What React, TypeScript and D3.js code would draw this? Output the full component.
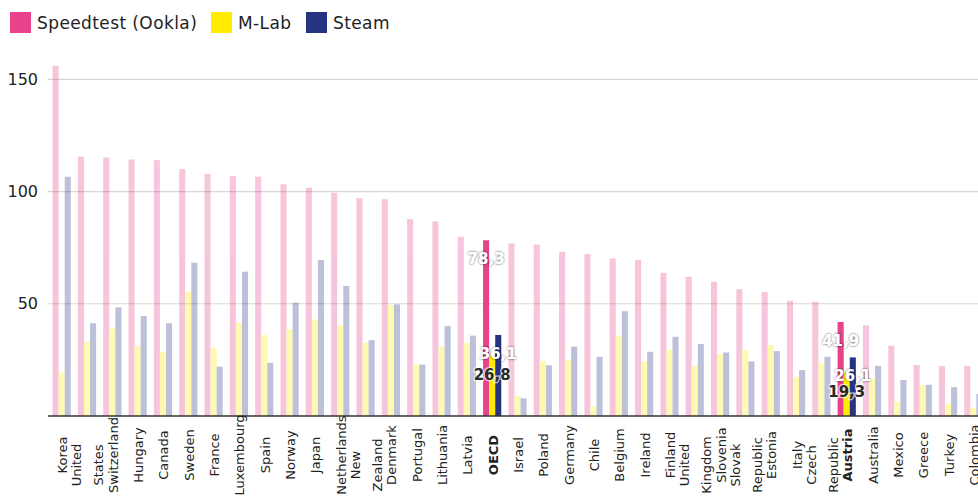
import React, { useEffect } from 'react';
import * as d3 from 'd3';

// Countries in chart order; "|" marks a line break in the axis label
const countries = [
  'Korea', 'United|States', 'Switzerland', 'Hungary', 'Canada', 'Sweden', 'France',
  'Luxembourg', 'Spain', 'Norway', 'Japan', 'Netherlands', 'New|Zealand', 'Denmark',
  'Portugal', 'Lithuania', 'Latvia', 'OECD', 'Israel', 'Poland', 'Germany', 'Chile',
  'Belgium', 'Ireland', 'Finland', 'United|Kingdom', 'Slovenia', 'Slovak|Republic',
  'Estonia', 'Italy', 'Czech|Republic', 'Austria', 'Australia', 'Mexico', 'Greece',
  'Turkey', 'Colombia',
];

const speedtest = [
  156.0, 115.5, 115.2, 114.3, 114.0, 110.0, 107.9, 107.0, 106.6, 103.3, 101.7, 99.4,
  97.1, 96.6, 87.7, 86.7, 79.8, 78.3, 76.9, 76.4, 73.2, 72.1, 70.2, 69.5, 63.8, 62.0,
  59.8, 56.5, 55.2, 51.3, 50.9, 41.9, 40.4, 31.3, 22.7, 22.3, 22.3,
];

const mlab = [
  19.3, 33.1, 39.0, 31.2, 28.6, 55.4, 30.4, 41.7, 36.1, 38.7, 43.0, 40.4,
  32.6, 49.4, 22.9, 30.9, 32.6, 26.8, 8.9, 24.5, 24.9, 4.2, 35.8, 24.2, 29.4, 22.4,
  27.6, 29.4, 31.6, 17.5, 23.5, 19.3, 16.5, 6.4, 13.7, 5.6, 3.7,
];

const steam = [
  106.6, 41.3, 48.4, 44.5, 41.3, 68.3, 22.0, 64.3, 23.7, 50.5, 69.5, 57.9,
  33.8, 49.7, 22.9, 40.1, 35.8, 36.1, 7.9, 22.6, 30.9, 26.4, 46.7, 28.6, 35.3, 32.1,
  28.3, 24.3, 28.9, 20.5, 26.4, 26.1, 22.3, 16.0, 13.9, 12.8, 9.8,
];

const highlighted = ['OECD', 'Austria'];
const yTicks = [50, 100, 150];

const seriesNames = ['Speedtest (Ookla)', 'M-Lab', 'Steam'];
const seriesColors = ['#e8428a', '#ffec00', '#263383'];
const seriesValues = [speedtest, mlab, steam];

const W = 978;
const H = 504;
const FONT = '"DejaVu Sans", sans-serif';

export default function App() {
  useEffect(() => {
    document.body.style.margin = '0';
  }, []);

  const x0 = d3
    .scaleBand<string>()
    .domain(countries)
    .range([49, 986])
    .paddingInner(0.28)
    .paddingOuter(0.14);

  const x1 = d3
    .scaleBand<number>()
    .domain([0, 1, 2])
    .range([0, x0.bandwidth()]);

  const y = d3.scaleLinear().domain([0, 150]).range([416, 79.3]);

  const fmt = (v: number) => v.toFixed(1).replace('.', ',');

  return (
    <svg width={W} height={H} style={{ display: 'block', fontFamily: FONT }}>
      <defs>
        <filter id="shadow" x="-30%" y="-30%" width="160%" height="160%">
          <feDropShadow dx="0" dy="0" stdDeviation="1.2" floodColor="#000" floodOpacity="0.75" />
        </filter>
      </defs>

      {/* legend */}
      {seriesNames.map((name, i) => {
        const lx = [10, 211, 306][i];
        return (
          <g key={name} transform={`translate(${lx},12)`}>
            <rect width={21} height={21} fill={seriesColors[i]} />
            <text x={27} y={17} fontSize={17} letterSpacing={0.4} fill="#222">
              {name}
            </text>
          </g>
        );
      })}

      {/* grid */}
      {yTicks.map((t) => (
        <g key={t}>
          <line x1={48} x2={W} y1={y(t)} y2={y(t)} stroke="#d6d6d6" strokeWidth={1.2} />
          <text x={38} y={y(t)} dy="0.35em" textAnchor="end" fontSize={16} fill="#222">
            {t}
          </text>
        </g>
      ))}

      {/* bars */}
      {countries.map((c, ci) => {
        const hi = highlighted.includes(c);
        return (
          <g key={c} transform={`translate(${x0(c)},0)`} opacity={hi ? 1 : 0.3}>
            {seriesValues.map((vals, si) => (
              <rect
                key={si}
                x={x1(si)}
                y={y(vals[ci])}
                width={x1.bandwidth()}
                height={y(0) - y(vals[ci])}
                fill={seriesColors[si]}
              />
            ))}
          </g>
        );
      })}

      {/* axis line */}
      <line x1={48} x2={W} y1={y(0)} y2={y(0)} stroke="#333" strokeWidth={1.3} />

      {/* value labels for highlighted groups */}
      {countries.map((c, ci) => {
        if (!highlighted.includes(c)) return null;
        return (
          <g key={'lab' + c} transform={`translate(${x0(c)},0)`}>
            {seriesValues.map((vals, si) => {
              const cx = (x1(si) as number) + x1.bandwidth() / 2;
              const cy = y(vals[ci]) + 19;
              const dark = si === 1;
              return (
                <text
                  key={si}
                  x={cx}
                  y={cy}
                  dominantBaseline="central"
                  textAnchor="middle"
                  fontSize={15}
                  fontWeight="bold"
                  fill={dark ? '#2a2a2a' : '#fff'}
                  stroke={dark ? '#fff' : 'none'}
                  strokeWidth={dark ? 2.5 : 0}
                  strokeOpacity={0.7}
                  paintOrder="stroke"
                  filter={dark ? undefined : 'url(#shadow)'}
                >
                  {fmt(vals[ci])}
                </text>
              );
            })}
          </g>
        );
      })}

      {/* x axis labels */}
      {countries.map((c) => {
        const lines = c.split('|');
        const cx = (x0(c) as number) + x0.bandwidth() / 2 + 1;
        const cy = lines.length > 1 ? 465 : 455;
        const hi = highlighted.includes(c);
        return lines.map((ln, li) => {
          const lx = cx + (li - (lines.length - 1) / 2) * 22;
          return (
            <text
              key={c + li}
              transform={`translate(${lx},${cy}) rotate(-90)`}
              textAnchor="middle"
              dominantBaseline="central"
              fontSize={13}
              fontWeight={hi ? 'bold' : 'normal'}
              fill="#222"
            >
              {ln}
            </text>
          );
        });
      })}
    </svg>
  );
}
